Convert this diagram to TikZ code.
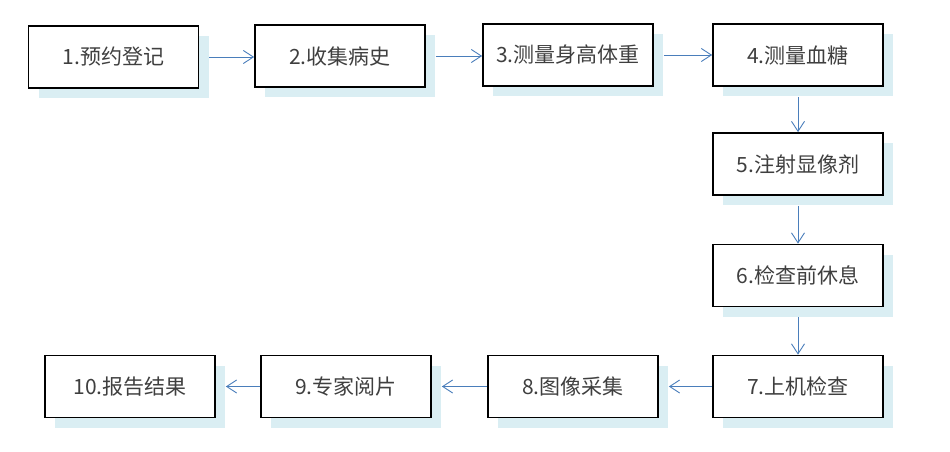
\documentclass[tikz,border=0pt]{standalone}
\usepackage{fontspec}
\setmainfont{Noto Sans CJK SC}
\usetikzlibrary{arrows.meta,shadows}
\definecolor{shadowblue}{HTML}{DAEEF3}
\definecolor{linkblue}{HTML}{4A7EBB}
\definecolor{textgray}{HTML}{3F3F3F}
\tikzset{
  stepbox/.style={draw=black,line width=1.7pt,fill=white,minimum width=170pt,minimum height=62pt,
    inner sep=0pt,text=textgray,font=\fontsize{21}{25}\selectfont,
    drop shadow={shadow xshift=10pt,shadow yshift=-10pt,fill=shadowblue,opacity=1}},
  link/.style={->,draw=linkblue,line width=0.9pt}
}
\begin{document}
\begin{tikzpicture}[x=1pt,y=-1pt,>={Straight Barb[length=10pt,width=13pt]}]
			\useasboundingbox[fill=white] (0,0) rectangle (950,452);
			% boxes
			\foreach \i/\x/\y/\t in {1/113.5/57/1.预约登记,2/340/56/2.收集病史,3/568/55/3.测量身高体重,4/798/55/4.测量血糖,
				5/798/164/5.注射显像剂,6/798/275.5/6.检查前休息,7/798/386.5/7.上机检查,
				8/573/386.5/8.图像采集,9/346/386.5/9.专家阅片,10/130/386.5/10.报告结果}
				\node[stepbox] (n\i) at (\x,\y) {\t};
			% arrows
			\foreach \a/\b in {1/2,2/3,3/4}\draw[link,shorten <=10pt] (n\a.east)--(n\b.west|-n\a.east);
			\foreach \a/\b in {4/5,5/6,6/7}\draw[link,shorten <=10pt] (n\a.south)--(n\b.north);
			\foreach \a/\b in {7/8,8/9,9/10}\draw[link] (n\a.west)--([xshift=10pt]n\b.east);
		\end{tikzpicture}
\end{document}
